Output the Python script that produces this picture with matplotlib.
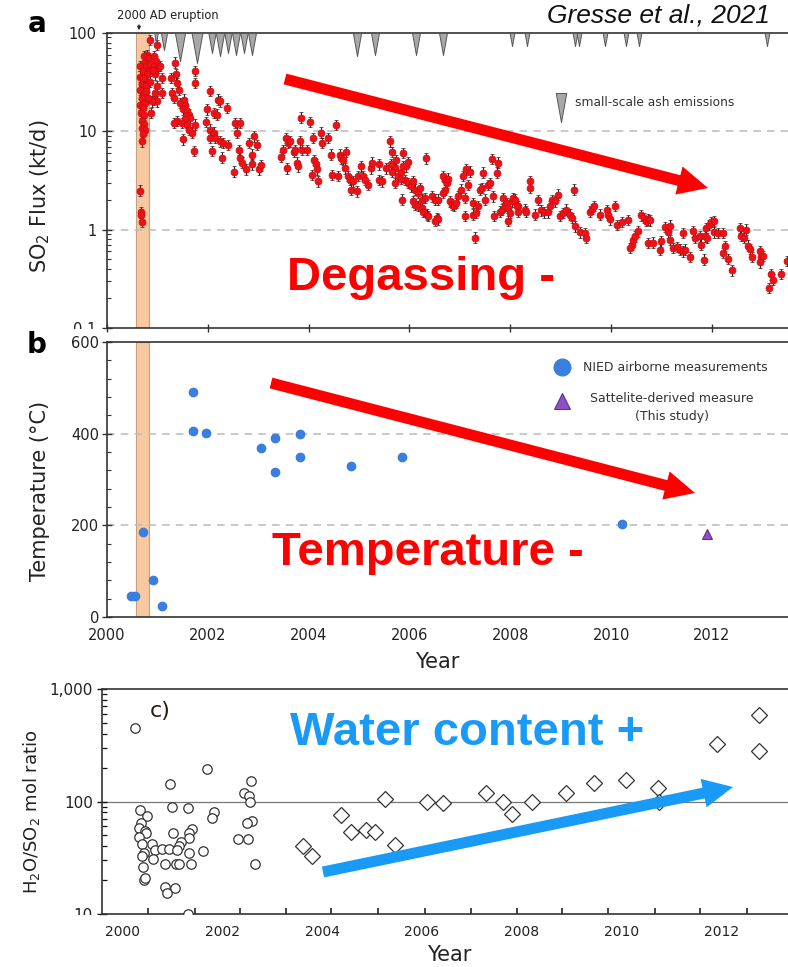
import numpy as np
import matplotlib
matplotlib.use("Agg")
import matplotlib.pyplot as plt
from matplotlib.path import Path
from matplotlib.patches import Polygon, Rectangle, FancyArrowPatch
from matplotlib.ticker import FixedLocator, LogLocator, NullFormatter, FixedFormatter, MultipleLocator

plt.rcParams['font.family'] = ['DejaVu Sans']
plt.rcParams['mathtext.default'] = 'regular'

# ---------------- data ----------------
eruption_span = (2000.575, 2000.833)

so2_year = [
    2000.86, 2000.79, 2000.74, 2000.83, 2000.73, 2000.66, 2000.78, 2000.86, 2000.71, 2000.83,
    2000.66, 2000.76, 2000.85, 2000.69, 2000.78, 2000.66, 2000.74, 2000.69, 2000.66, 2000.76,
    2000.71, 2000.68, 2000.74, 2000.69, 2000.73, 2000.69, 2000.75, 2000.71, 2000.69, 2000.66,
    2000.68, 2000.68, 2000.70, 2000.93, 2000.99, 2000.98, 2000.93, 2001.02, 2001.06, 2000.96,
    2001.09, 2000.99, 2000.96, 2001.09, 2000.93, 2000.99, 2000.89, 2000.87, 2000.91, 2000.80,
    2000.72, 2000.81, 2000.77,
    2001.35, 2001.37, 2001.26, 2001.39, 2001.75, 2001.75, 2001.29, 2001.42, 2001.32, 2001.45,
    2001.52, 2001.55, 2001.51, 2001.59, 2001.62, 2001.57, 2001.65, 2001.55, 2001.39, 2001.32,
    2001.49, 2001.59, 2001.75, 2001.62, 2001.69, 2001.51, 2001.73,
    2002.05, 2001.98, 2001.97, 2002.21, 2002.25, 2002.12, 2002.18, 2002.38, 2002.05, 2002.12,
    2002.04, 2002.15, 2002.25, 2002.31, 2002.41, 2002.08, 2002.28, 2002.54, 2002.63, 2002.58,
    2002.61, 2002.64, 2002.68, 2002.81, 2002.91, 2002.97, 2002.88, 2002.51, 2002.76, 2002.88,
    2003.01, 2003.06,
    2003.85, 2004.03, 2004.55, 2003.46, 2003.50, 2003.56, 2003.60, 2003.63, 2003.70, 2003.73,
    2003.83, 2003.86, 2003.96, 2003.58, 2003.76, 2003.78, 2004.09, 2004.25, 2004.26, 2004.38,
    2004.11, 2004.14, 2004.16, 2004.06, 2004.19, 2004.46, 2004.44, 2004.62, 2004.65, 2004.69,
    2004.75, 2004.59, 2004.72, 2004.79, 2004.82, 2004.88, 2004.85, 2004.95, 2004.98, 2005.04,
    2005.08, 2005.12, 2005.18, 2005.23, 2005.26, 2005.39, 2005.39, 2005.45, 2005.53, 2005.61,
    2005.66, 2005.71, 2005.74, 2005.88, 2005.63, 2005.65, 2005.71, 2005.78, 2005.83, 2005.91,
    2005.94, 2005.97, 2005.88, 2005.84, 2005.97, 2006.03, 2006.07, 2006.11, 2006.17, 2006.21,
    2005.86, 2006.07, 2006.11, 2006.17, 2006.24, 2006.27, 2006.34, 2006.37, 2006.24, 2006.31,
    2006.33, 2006.44, 2006.50, 2006.57, 2006.54, 2006.57, 2006.50, 2006.67, 2006.70, 2006.74,
    2006.77, 2006.70, 2006.67, 2006.80, 2006.84, 2006.89, 2006.93, 2006.97, 2007.03, 2007.07,
    2007.10, 2007.13, 2007.17, 2007.20, 2007.10, 2007.26, 2007.26, 2007.33, 2007.36, 2007.40,
    2007.43, 2007.46, 2007.50, 2007.56, 2007.60, 2007.63, 2007.66, 2007.68, 2007.75, 2007.73,
    2007.79, 2007.83, 2007.86, 2007.89, 2007.93, 2007.96, 2008.03, 2008.06, 2007.96, 2008.16,
    2007.99, 2007.30,
    2008.09, 2008.14, 2008.16, 2008.29, 2008.32, 2008.39, 2008.39, 2008.49, 2008.55, 2008.61,
    2008.67, 2008.75, 2008.79, 2008.83, 2008.88, 2008.95, 2008.98, 2009.05, 2009.10, 2009.18,
    2009.22, 2009.27, 2009.29, 2009.38, 2009.48, 2009.50, 2009.58, 2009.62, 2009.66, 2009.78,
    2009.91, 2009.94, 2009.98, 2010.07, 2010.11, 2010.21, 2010.34, 2010.41, 2010.37, 2010.44,
    2010.47, 2010.54, 2010.60, 2010.66, 2010.70, 2010.74, 2010.77, 2010.74, 2010.84, 2010.97,
    2011.00, 2011.07, 2011.13, 2011.17, 2011.17, 2011.23, 2011.30, 2011.36, 2011.43, 2011.43,
    2011.46, 2011.56, 2011.63, 2011.66, 2011.76, 2011.79, 2011.85, 2011.86, 2011.91, 2011.89,
    2011.94, 2011.99, 2012.04, 2012.04, 2012.12, 2012.22, 2012.22, 2012.27, 2012.31, 2012.39,
    2012.55, 2012.57, 2012.64, 2012.67, 2012.72, 2012.75, 2012.80, 2012.95, 2012.98, 2013.02,
    2012.95, 2013.13, 2013.17, 2013.21, 2013.38, 2013.50,
]
so2_flux = [
    85, 60, 58, 56, 50, 46, 46, 48, 41, 41,
    36, 33.6, 32, 30, 28.8, 26.6, 24.6, 21.9, 18.7, 19.5,
    17.3, 15.4, 14.8, 12.7, 12, 10.9, 10.4, 9.3, 7.9, 2.5,
    1.5, 1.42, 1.2, 58, 76, 52, 46, 44, 46, 38,
    35, 28.8, 24.6, 24.6, 21, 20.2, 20.2, 15.4, 42.5, 38,
    35, 22, 26,
    50, 38, 35, 31, 41, 31, 24.6, 26.6, 21.9, 19.5,
    21, 18.7, 16.7, 16, 14.8, 14.3, 13.7, 13.2, 12.7, 12.2,
    12.2, 11.7, 11.7, 10.4, 9.7, 8.3, 6.3,
    25.6, 16.7, 12.4, 21, 20.2, 15.4, 14.8, 17.3, 10.4, 9.7,
    8.6, 8.6, 7.9, 7.6, 7.3, 6.3, 5.4, 12.2, 12.2, 9.7,
    6.5, 5.4, 4.8, 7.6, 8.9, 7.3, 5.8, 3.9, 4.1, 4.6,
    4.1, 4.5,
    13.8, 12.4, 11.6, 5.5, 6.5, 8.5, 7.6, 7.9, 6.2, 6.5,
    7.9, 6.5, 6.5, 4.2, 4.8, 4.4, 8.5, 9.7, 7.6, 8.5,
    5.1, 4.6, 4.1, 3.6, 3.1, 3.6, 5.8, 5.8, 5.3, 5.1,
    6.2, 3.5, 4.2, 3.5, 3.2, 3.1, 2.55, 2.45, 3.5, 4.4,
    3.5, 3.2, 2.86, 4.2, 4.8, 4.6, 3.2, 3.1, 4.2, 7.9,
    6.2, 4.2, 5.1, 6.0, 4.6, 3.9, 3.0, 3.5, 3.9, 3.2,
    4.4, 4.9, 4.4, 3.3, 3.0, 2.75, 3.1, 2.55, 2.36, 2.65,
    2.02, 1.94, 1.8, 1.73, 1.66, 1.53, 1.42, 1.37, 2.02, 2.1,
    5.3, 2.18, 2.02, 2.02, 1.31, 1.27, 1.22, 3.5, 3.2, 3.0,
    3.3, 2.55, 2.36, 1.94, 1.8, 1.73, 1.87, 2.18, 2.55, 3.5,
    2.1, 4.1, 2.86, 3.9, 1.37, 1.87, 1.42, 1.48, 1.73, 2.55,
    2.65, 3.8, 2.02, 2.86, 3.0, 5.2, 2.18, 1.37, 4.8, 3.8,
    1.53, 1.6, 2.1, 1.73, 1.87, 1.66, 1.94, 2.1, 1.22, 1.73,
    1.48, 0.83,
    2.02, 1.73, 1.53, 1.6, 1.53, 3.1, 2.65, 1.42, 2.0, 1.57,
    1.5, 1.5, 1.73, 2.0, 1.94, 2.27, 1.37, 1.48, 1.6, 1.42,
    1.31, 2.55, 1.08, 0.94, 0.925, 0.82, 1.53, 1.62, 1.73, 1.42,
    1.57, 1.42, 1.27, 1.73, 1.12, 1.2, 1.26, 0.705, 0.65, 0.79,
    0.855, 0.96, 1.4, 1.31, 1.22, 1.27, 1.24, 0.73, 0.74, 0.627,
    0.76, 1.07, 0.94, 1.1, 0.79, 0.65, 0.67, 0.627, 0.925, 0.6,
    0.627, 0.53, 0.96, 0.82, 0.855, 0.705, 0.495, 0.855, 0.82, 1.04,
    1.12, 1.2, 1.22, 0.94, 0.925, 0.925, 0.58, 0.68, 0.505, 0.385,
    1.04, 0.865, 0.82, 1.0, 0.69, 0.64, 0.525, 0.6, 0.525, 0.54,
    0.465, 0.256, 0.35, 0.31, 0.355, 0.477,
]
so2_rel_err = 0.13

ash_year = [2000.98, 2001.13, 2001.45, 2001.79, 2002.09, 2002.25, 2002.41, 2002.56, 2002.72, 2002.88,
            2004.95, 2005.31, 2006.14, 2006.66, 2008.03, 2008.33, 2009.28, 2009.36, 2009.88, 2010.30,
            2010.56, 2013.10]
ash_size = [10, 17, 28, 30, 20, 23, 20, 22, 20, 22,
            23, 22, 22, 22, 13, 13, 13, 13, 13, 13,
            13, 13]

temp_year = [2000.48, 2000.55, 2000.72, 2000.92, 2001.10, 2001.70, 2001.70, 2001.97, 2003.05, 2003.34,
             2003.34, 2003.82, 2003.82, 2004.85, 2005.85, 2010.22]
temp_val = [45, 45, 186, 81, 24, 492, 406, 401, 369, 391,
            316, 399, 350, 329, 350, 202]
sat_year = [2011.90]
sat_val = [181]

circ_year = [2000.26, 2001.69, 2000.96, 2002.58, 2002.43, 2002.53, 2002.56, 2001.00, 2001.31, 2000.36,
             2000.50, 2001.83, 2001.79, 2000.38, 2002.59, 2002.49, 2000.34, 2000.45, 2000.48, 2001.02,
             2001.39, 2001.34, 2001.34, 2000.33, 2002.31, 2002.51, 2000.40, 2000.60, 2001.17, 2001.14,
             2000.65, 2000.80, 2000.94, 2001.10, 2000.44, 2000.40, 2001.33, 2001.61, 2000.62, 2000.86,
             2001.07, 2001.13, 2001.37, 2002.66, 2000.42, 2000.43, 2000.45, 2000.85, 2001.05, 2000.89,
             2001.32]
circ_val = [453, 195, 143, 151, 120, 113, 100, 89, 87, 84,
            74, 80, 72, 65, 67, 65, 58, 55, 52, 52,
            57, 52, 47, 48, 46, 46, 42, 42, 44, 40,
            37, 38, 38, 37, 35, 33, 35, 36, 31, 28,
            28, 28, 28, 28, 26, 20, 21, 17.5, 17, 15.4,
            10]
diam_year = [2003.61, 2003.79, 2004.39, 2004.59, 2004.89, 2005.07, 2005.27, 2005.46, 2006.10, 2006.42,
             2007.28, 2007.62, 2007.81, 2008.21, 2008.90, 2009.45, 2010.09, 2010.74, 2010.75, 2011.92,
             2012.76, 2012.76]
diam_val = [40, 33, 76, 54, 56, 54, 105, 41, 98, 96,
            118, 100, 77, 98, 118, 147, 155, 131, 98, 325,
            590, 282]

year_ticks = [2000, 2002, 2004, 2006, 2008, 2010, 2012]
year_labels = ['2000', '2002', '2004', '2006', '2008', '2010', '2012']
c_minor_ticks = [2000.52, 2001.45, 2002.35, 2003.28, 2004.19, 2005.13, 2006.06, 2006.98,
                 2007.91, 2008.82, 2009.74, 2010.67, 2011.57, 2012.51]

# ---------------- figure ----------------
W, H = 788, 967
fig = plt.figure(figsize=(W / 100, H / 100), dpi=100)


def fx(x):
    return x / W


def fy(y):
    return 1 - y / H


def axes_px(left, top, right, bottom):
    return fig.add_axes([fx(left), fy(bottom), (right - left) / W, (bottom - top) / H])


axA = axes_px(107, 33, 788, 328)
axB = axes_px(107, 342, 788, 617)
axC = axes_px(102, 689, 788, 914)

spine_col = '#333333'
for ax in (axA, axB, axC):
    ax.spines['right'].set_visible(False)
    for s in ('left', 'top', 'bottom'):
        ax.spines[s].set_color(spine_col)
        ax.spines[s].set_linewidth(1.2)
    ax.set_facecolor('none')

# ---- panel a ----
axA.set_xlim(2000, 2013.51)
axA.set_yscale('log')
axA.set_ylim(0.1, 100)
axA.axvspan(*eruption_span, facecolor='#f8c8a0', edgecolor='#c8a080', lw=0.8, zorder=0)
for v in (10, 1):
    axA.axhline(v, color='#bbbbbb', lw=1.1, ls=(0, (5, 4)), zorder=0.5)
fl = np.array(so2_flux)
lo = fl - fl / (1 + so2_rel_err)
hi = fl * so2_rel_err
axA.errorbar(so2_year, fl, yerr=[lo, hi], fmt='o', ms=5, mfc='#e8141b', mec='#e00000', mew=0.5,
             ecolor='#222222', elinewidth=0.8, capsize=1.5, capthick=0.8, zorder=3)
tri_path = Path([(-0.18, 0), (0.18, 0), (0, -1), (-0.18, 0)],
                [Path.MOVETO, Path.LINETO, Path.LINETO, Path.CLOSEPOLY])
for yr, d in zip(ash_year, ash_size):
    axA.plot([yr], [100], marker=tri_path, ms=1.44 * d, mfc='#a8a8a8', mec='#555555', mew=0.7,
             ls='none', clip_on=False, zorder=4)
# legend of panel a
axA.plot([0.667], [0.797], transform=axA.transAxes, marker=tri_path, ms=1.44 * 29, mfc='#a8a8a8',
         mec='#555555', mew=0.7, ls='none', clip_on=False, zorder=4)
axA.text(0.687, 0.766, 'small-scale ash emissions', transform=axA.transAxes, fontsize=8.8,
         color='#333333', ha='left', va='center')
axA.xaxis.set_major_locator(FixedLocator(year_ticks))
axA.tick_params(axis='x', which='major', labelbottom=False, direction='inout', length=6, width=1,
                color=spine_col)
axA.yaxis.set_major_locator(FixedLocator([0.1, 1, 10, 100]))
axA.yaxis.set_major_formatter(FixedFormatter(['0.1', '1', '10', '100']))
axA.yaxis.set_minor_locator(LogLocator(base=10, subs=np.arange(2, 10)))
axA.yaxis.set_minor_formatter(NullFormatter())
axA.tick_params(axis='y', which='major', direction='inout', length=7, width=1, labelsize=10.5,
                pad=4, color=spine_col, labelcolor='#222222')
axA.tick_params(axis='y', which='minor', direction='in', length=3, width=0.8, color=spine_col)

# ---- panel b ----
axB.set_xlim(2000, 2013.51)
axB.set_ylim(0, 600)
axB.axvspan(*eruption_span, facecolor='#f8c8a0', edgecolor='#c8a080', lw=0.8, zorder=0)
for v in (400, 200):
    axB.axhline(v, color='#bbbbbb', lw=1.1, ls=(0, (5, 4)), zorder=0.5)
axB.plot(temp_year, temp_val, 'o', ms=6, color='#3a7ee0', ls='none', zorder=3)
axB.plot(sat_year, sat_val, '^', ms=7.5, mfc='#8c50c4', mec='#5a3290', mew=0.8, ls='none', zorder=3)
axB.plot([0.668], [0.909], 'o', ms=12, color='#3a7ee0', transform=axB.transAxes, clip_on=False)
axB.plot([0.668], [0.785], '^', ms=12, mfc='#8c50c4', mec='#5a3290', mew=0.8,
         transform=axB.transAxes, clip_on=False)
axB.text(0.699, 0.909, 'NIED airborne measurements', transform=axB.transAxes, fontsize=9,
         color='#333333', ha='left', va='center')
axB.text(0.830, 0.762, 'Sattelite-derived measure\n(This study)', transform=axB.transAxes,
         fontsize=9, color='#333333', ha='center', va='center', multialignment='center',
         linespacing=1.55)
axB.xaxis.set_major_locator(FixedLocator(year_ticks))
axB.xaxis.set_major_formatter(FixedFormatter(year_labels))
axB.tick_params(axis='x', which='major', length=0, labelsize=10.5, pad=8, labelcolor='#222222')
axB.yaxis.set_major_locator(FixedLocator([0, 200, 400, 600]))
axB.yaxis.set_minor_locator(MultipleLocator(40))
axB.tick_params(axis='y', which='major', direction='inout', length=7, width=1, labelsize=10.5,
                pad=2, color=spine_col, labelcolor='#222222')
axB.tick_params(axis='y', which='minor', direction='in', length=3, width=0.8, color=spine_col)

# ---- panel c ----
axC.set_xlim(1999.59, 2013.34)
axC.set_yscale('log')
axC.set_ylim(10, 1000)
axC.axhline(100, color='#777777', lw=0.9, zorder=1)
axC.plot(circ_year, circ_val, 'o', ms=6.8, mfc='white', mec='#333333', mew=0.9, ls='none', zorder=3)
axC.plot(diam_year, diam_val, 'D', ms=8.5, mfc='white', mec='#333333', mew=0.9, ls='none', zorder=3)
axC.xaxis.set_major_locator(FixedLocator(year_ticks))
axC.xaxis.set_major_formatter(FixedFormatter(year_labels))
axC.xaxis.set_minor_locator(FixedLocator(c_minor_ticks))
axC.tick_params(axis='x', which='major', length=0, labelsize=10, pad=8, labelcolor='#222222')
axC.tick_params(axis='x', which='minor', direction='in', length=4, width=1.1, color='#111111')
axC.yaxis.set_major_locator(FixedLocator([10, 100, 1000]))
axC.yaxis.set_major_formatter(FixedFormatter(['10', '100', '1,000']))
axC.yaxis.set_minor_locator(LogLocator(base=10, subs=np.arange(2, 10)))
axC.yaxis.set_minor_formatter(NullFormatter())
axC.tick_params(axis='y', which='major', direction='inout', length=7, width=1, labelsize=11,
                pad=3, color='#111111', labelcolor='#222222')
axC.tick_params(axis='y', which='minor', direction='in', length=3.5, width=0.9, color='#111111')
axC.text(0.085, 0.90, 'c)', transform=axC.transAxes, fontsize=16, color='#2a1a10',
         ha='center', va='center')

# ---- axis labels ----
fig.text(fx(40), fy(196), 'SO$_2$ Flux (kt/d)', rotation=90, ha='center', va='center',
         fontsize=15, color='#222222')
fig.text(fx(40), fy(491), 'Temperature (°C)', rotation=90, ha='center', va='center',
         fontsize=15, color='#222222')
fig.text(fx(32), fy(812), 'H$_2$O/SO$_2$ mol ratio', rotation=90, ha='center', va='center',
         fontsize=13, color='#222222')
fig.text(fx(437), fy(662), 'Year', ha='center', va='center', fontsize=15, color='#222222')
fig.text(fx(449), fy(955), 'Year', ha='center', va='center', fontsize=15, color='#222222')

# ---- panel letters & header ----
fig.text(fx(28), fy(32), 'a', fontsize=20, fontweight='bold', ha='left', va='baseline')
fig.text(fx(27), fy(353), 'b', fontsize=20, fontweight='bold', ha='left', va='baseline')
fig.text(fx(168), fy(16), '2000 AD eruption', fontsize=8.3, color='#222222', ha='center', va='center')
fig.add_artist(FancyArrowPatch((fx(139), fy(22)), (fx(139), fy(33)), transform=fig.transFigure,
                               arrowstyle='-|>', mutation_scale=5, lw=0.8, color='#222222'))
fig.text(fx(770), fy(22), 'Gresse et al., 2021', fontsize=19, style='italic',
         family=['Liberation Sans', 'DejaVu Sans'], ha='right', va='baseline', color='#111111')

# masks reproducing cut tick labels
fig.add_artist(Rectangle((fx(50), fy(335)), 54 / W, 6.5 / H, transform=fig.transFigure,
                         fc='white', ec='none', zorder=5))
fig.add_artist(Rectangle((fx(50), fy(926)), 50 / W, 11.5 / H, transform=fig.transFigure,
                         fc='white', ec='none', zorder=5))


# ---- annotation arrows & texts ----
def arrow_poly(x0, y0, x1, y1, shaft, head_w, head_l):
    p0 = np.array([x0, y0], float)
    p1 = np.array([x1, y1], float)
    d = p1 - p0
    u = d / np.hypot(*d)
    n = np.array([-u[1], u[0]])
    b = p1 - u * head_l
    pts = [p0 + n * shaft / 2, b + n * shaft / 2, b + n * head_w / 2, p1,
           b - n * head_w / 2, b - n * shaft / 2, p0 - n * shaft / 2]
    return [(fx(px), fy(py)) for px, py in pts]


red = '#ff0000'
blue = '#1a9af7'
fig.add_artist(Polygon(arrow_poly(285, 79, 708, 188, 11, 29, 30), closed=True,
                       transform=fig.transFigure, fc=red, ec='none', zorder=6))
fig.add_artist(Polygon(arrow_poly(271, 383, 695, 493, 11, 29, 30), closed=True,
                       transform=fig.transFigure, fc=red, ec='none', zorder=6))
fig.add_artist(Polygon(arrow_poly(323, 872, 733, 787, 11, 29, 30), closed=True,
                       transform=fig.transFigure, fc=blue, ec='none', zorder=6))

big = dict(fontsize=34, fontweight='bold', family=['Liberation Sans', 'DejaVu Sans'],
           ha='left', va='baseline', zorder=7)
fig.text(fx(287), fy(290), 'Degassing -', color=red, **big)
fig.text(fx(272), fy(565), 'Temperature -', color=red, **big)
fig.text(fx(290), fy(745), 'Water content +', color=blue, **big)

fig.savefig('out.png', dpi=100)
